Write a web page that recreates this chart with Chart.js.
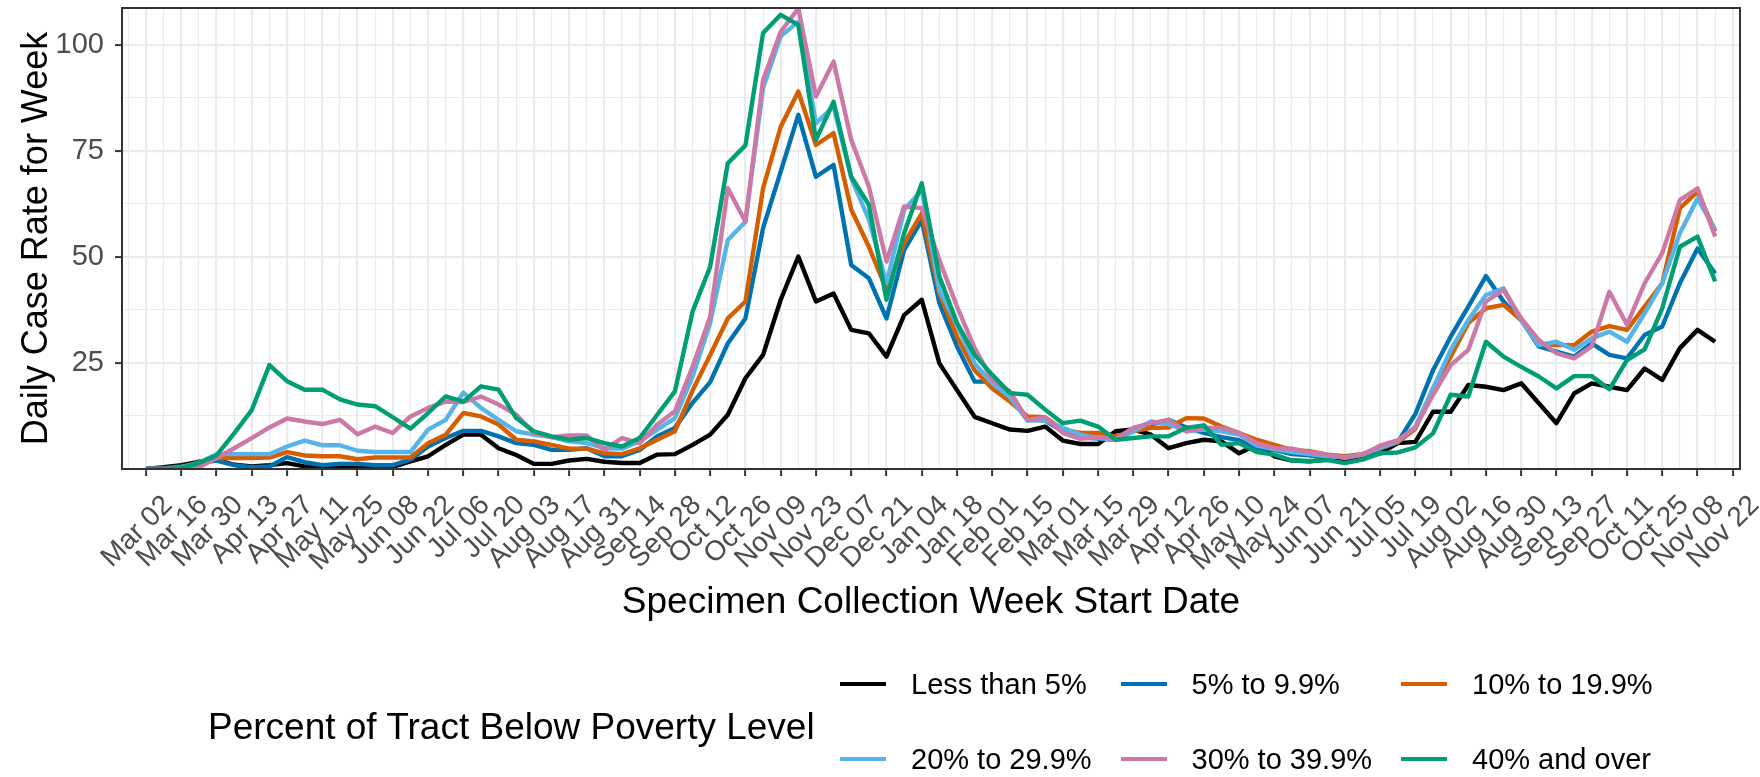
<!DOCTYPE html>
<html>
<head>
<meta charset="utf-8">
<script src="https://cdn.jsdelivr.net/npm/chart.js@4.4.1/dist/chart.umd.min.js"></script>
<style>
  body { margin: 0; background: #fff; }
  #wrap { position: relative; width: 1760px; height: 777px; font-family: 'Liberation Sans', Arial, sans-serif; }
  #chart { position: absolute; left: 0; top: 0; }
  .lg-title { position: absolute; font-size: 37px; color: #000; white-space: nowrap; transform: translateY(-50%); }
  .lg-key { position: absolute; width: 46px; height: 4px; transform: translateY(-50%); }
  .lg-text { position: absolute; font-size: 29px; color: #000; white-space: nowrap; transform: translateY(-50%); }
</style>
</head>
<body>
<div id="wrap">
  <canvas id="chart" width="1760" height="777"></canvas>
  <div id="legend"></div>
</div>
<script>
// x = week number counted from the week of Mar 02 2020 (one value per week)
const tickLabels = ["Mar 02","Mar 16","Mar 30","Apr 13","Apr 27","May 11","May 25","Jun 08","Jun 22","Jul 06","Jul 20",
  "Aug 03","Aug 17","Aug 31","Sep 14","Sep 28","Oct 12","Oct 26","Nov 09","Nov 23","Dec 07","Dec 21",
  "Jan 04","Jan 18","Feb 01","Feb 15","Mar 01","Mar 15","Mar 29","Apr 12","Apr 26","May 10","May 24",
  "Jun 07","Jun 21","Jul 05","Jul 19","Aug 02","Aug 16","Aug 30","Sep 13","Sep 27","Oct 11","Oct 25","Nov 08","Nov 22"];

const seriesNames = ["Less than 5%", "5% to 9.9%", "10% to 19.9%", "20% to 29.9%", "30% to 39.9%", "40% and over"];
const seriesColors = ["#000000", "#0072B2", "#D55E00", "#56B4E9", "#CC79A7", "#009E73"];

const lessThan5 = [0,0.4,0.9,1.7,2.2,1.0,0.6,0.9,1.4,0.6,
  0.4,0.5,0.5,0.4,0.5,1.8,3.0,5.7,8.1,8.1,
  4.9,3.3,1.2,1.2,2.0,2.4,1.7,1.4,1.4,3.4,
  3.5,5.7,8.1,12.8,21.4,26.9,39.9,50.1,39.5,41.4,
  32.8,32.0,26.5,36.3,39.9,24.9,18.6,12.3,10.8,9.3,
  9.0,10.0,6.7,5.9,5.9,8.9,9.3,8.1,4.9,6.1,
  6.9,6.5,3.7,5.7,3.0,2.0,1.8,2.2,1.8,2.6,
  3.7,6.1,6.4,13.5,13.5,19.8,19.4,18.6,20.2,15.5,
  10.8,17.8,20.2,19.4,18.6,23.7,21.0,28.5,32.8,30.0];

const pct5to10 = [0,0.2,0.6,1.4,2.0,0.9,0.4,0.6,2.8,1.6,
  0.9,1.2,1.2,0.9,0.9,2.2,5.3,7.3,9.0,9.0,
  7.7,6.1,5.7,4.5,4.5,4.9,3.0,3.0,4.5,7.7,
  9.7,15.6,20.5,29.6,35.5,56.8,70.1,83.5,68.9,71.7,
  48.1,45.0,35.5,51.6,58.7,39.1,28.9,20.6,20.6,16.5,
  12.0,11.4,8.9,7.5,7.2,6.9,8.9,10.5,11.6,9.8,
  8.5,7.5,6.8,5.0,4.5,3.5,3.2,3.0,2.9,3.2,
  4.8,6.3,13.0,23.3,31.2,38.3,45.5,39.5,35.1,28.9,
  27.7,26.5,29.6,26.9,26.1,31.6,33.6,43.8,52.0,46.1];

const pct10to20 = [0,0.1,0.5,1.2,2.6,2.6,2.6,2.7,4.0,3.2,
  3.0,3.0,2.3,2.7,2.7,2.7,6.1,8.1,13.2,12.4,
  10.5,6.9,6.5,5.7,4.8,4.8,3.7,3.5,4.9,6.9,
  8.9,18.5,26.9,35.5,39.5,66.2,80.7,89.0,76.4,79.2,
  61.2,52.4,42.2,53.2,60.3,41.4,31.2,23.3,19.0,15.9,
  12.4,12.2,9.3,8.5,8.5,7.7,8.9,9.7,9.8,12.0,
  11.9,10.0,8.5,6.9,5.7,4.5,4.2,3.4,3.0,3.5,
  4.9,6.3,9.5,19.0,26.5,34.4,37.9,38.7,35.1,29.6,
  29.2,29.2,32.4,33.7,32.8,38.3,43.8,61.5,65.4,56.0];

const pct20to30 = [0,0,0.3,1.5,3.5,3.5,3.5,3.5,5.3,6.7,
  5.6,5.6,4.3,4.0,4.0,4.0,9.3,11.6,18.0,14.4,
  11.6,8.9,8.1,7.5,6.5,6.1,4.9,4.8,6.5,9.3,
  12.0,21.8,34.4,54.0,58.3,89.8,102.0,105.5,81.5,85.5,
  68.6,58.8,43.8,61.1,65.8,42.2,34.0,24.9,20.2,17.0,
  11.4,11.4,9.7,8.1,7.3,6.9,8.9,11.2,10.6,8.9,
  9.3,8.9,8.1,5.5,4.7,4.0,3.5,3.0,2.8,3.4,
  5.0,6.5,10.0,19.0,28.1,35.1,41.0,42.6,35.1,29.2,
  30.0,28.1,30.8,32.4,30.0,36.7,43.8,55.6,63.8,56.4];

const pct30to40 = [0,0,0,0.4,2.6,4.9,7.3,9.8,11.9,11.2,
  10.6,11.6,8.2,10.0,8.5,12.4,14.4,15.9,15.8,17.1,
  15.2,12.8,8.5,7.5,7.9,7.9,4.5,7.3,6.1,10.5,
  13.6,24.1,35.9,66.2,58.3,91.7,103.1,108.6,87.8,96.1,
  77.6,66.6,48.9,61.9,61.5,49.3,38.3,28.5,21.0,18.3,
  11.6,12.2,8.5,7.1,7.5,7.1,9.7,10.8,11.6,8.9,
  9.7,9.7,8.5,6.1,4.9,4.8,4.0,3.4,2.6,3.4,
  5.5,6.8,9.8,17.5,24.5,28.1,39.5,42.2,35.5,30.4,
  27.3,26.1,28.9,41.8,34.0,43.8,50.9,63.4,66.2,54.8];

const pct40plus = [0,0,0.2,1.4,3.2,8.4,13.9,24.5,20.7,18.7,
  18.7,16.4,15.2,14.8,12.2,9.5,13.2,17.1,15.9,19.5,
  18.7,12.0,8.9,7.7,6.9,7.3,6.1,5.3,7.3,12.8,
  18.3,37.1,47.7,72.1,76.3,102.8,107.1,104.7,77.6,86.6,
  68.9,62.3,39.9,55.6,67.4,45.4,34.4,26.9,22.2,17.9,
  17.5,14.0,10.8,11.4,10.0,6.9,7.3,7.7,7.7,9.7,
  10.3,5.7,6.1,4.0,3.4,2.0,1.9,2.1,1.4,2.2,
  3.7,3.9,5.1,8.4,17.5,17.1,30.0,26.5,24.1,21.8,
  19.0,21.9,21.9,18.8,25.7,28.2,37.9,52.4,54.8,44.2];

const allSeries = [lessThan5, pct5to10, pct10to20, pct20to30, pct30to40, pct40plus];

const datasets = allSeries.map((vals, i) => ({
    label: seriesNames[i],
    data: vals.map((v, w) => ({x: w, y: v})),
    borderColor: seriesColors[i],
    backgroundColor: seriesColors[i],
    borderWidth: 4.4,
    borderJoinStyle: 'round',
    pointRadius: 0,
    tension: 0,
    order: allSeries.length - 1 - i   // later groups drawn on top
}));

const panelBorder = {
    id: 'panelBorder',
    afterDatasetsDraw(chart) {
        const {ctx, chartArea: a} = chart;
        ctx.save();
        ctx.strokeStyle = '#333333';
        ctx.lineWidth = 2;
        ctx.strokeRect(a.left, a.top, a.right - a.left, a.bottom - a.top);
        ctx.restore();
    }
};

// no extra room for half-labels at the ends of the axes
function noEndPadding(s) {
    s.paddingTop = 0; s.paddingBottom = 0;
    s.paddingLeft = 0; s.paddingRight = 0;
}

Chart.defaults.font.family = "'Liberation Sans', Arial, sans-serif";

const chart = new Chart(document.getElementById('chart'), {
    type: 'line',
    data: { datasets: datasets },
    plugins: [panelBorder],
    options: {
        responsive: false,
        animation: false,
        devicePixelRatio: 1,
        layout: { padding: { left: 0, right: 20, top: 8, bottom: 150 } },
        plugins: { legend: { display: false }, tooltip: { enabled: false } },
        scales: {
            x: {
                type: 'linear',
                min: -1.36,
                max: 90.41,
                afterFit: s => { s.height = 158; noEndPadding(s); },
                border: { display: false },
                grid: {
                    color: '#EBEBEB',
                    lineWidth: c => (c.tick && c.tick.value % 2 === 0) ? 2.2 : 1.1,
                    tickColor: c => (c.tick && c.tick.value % 2 === 0 && c.tick.value >= 0) ? '#333333' : 'rgba(0,0,0,0)',
                    tickWidth: 2,
                    tickLength: 7
                },
                ticks: {
                    stepSize: 1,
                    includeBounds: false,
                    autoSkip: false,
                    maxTicksLimit: 200,
                    minRotation: 45,
                    maxRotation: 45,
                    padding: 13,
                    labelOffset: 22,
                    color: '#4D4D4D',
                    font: { size: 28 },
                    callback: v => (v >= 0 && v % 2 === 0 && tickLabels[v / 2]) ? tickLabels[v / 2] : ''
                },
                title: {
                    display: true,
                    text: 'Specimen Collection Week Start Date',
                    color: '#000',
                    font: { size: 37 },
                    padding: { top: 0, bottom: 2 }
                }
            },
            y: {
                min: 0,
                max: 108.7,
                afterFit: s => { s.width = 122; noEndPadding(s); },
                border: { display: false },
                grid: {
                    color: '#EBEBEB',
                    lineWidth: c => (c.tick && c.tick.value % 25 === 0) ? 2.2 : 1.1,
                    tickColor: c => (c.tick && c.tick.value % 25 === 0 && c.tick.value > 0) ? '#333333' : 'rgba(0,0,0,0)',
                    tickWidth: 2,
                    tickLength: 7
                },
                ticks: {
                    stepSize: 12.5,
                    includeBounds: false,
                    autoSkip: false,
                    padding: 11,
                    color: '#4D4D4D',
                    font: { size: 29 },
                    callback: v => (v > 0 && v % 25 === 0) ? String(v) : ''
                },
                title: {
                    display: true,
                    text: 'Daily Case Rate for Week',
                    color: '#000',
                    font: { size: 36 },
                    padding: { top: 15, bottom: 0 }
                }
            }
        }
    }
});

// legend laid out like the original: title on the left, 3 columns x 2 rows
const legend = document.getElementById('legend');
const title = document.createElement('div');
title.className = 'lg-title';
title.textContent = 'Percent of Tract Below Poverty Level';
title.style.left = '208px';
title.style.top = '727px';
legend.appendChild(title);

chart.data.datasets.forEach((ds, i) => {
    const col = i % 3, row = Math.floor(i / 3);
    const keyX = 840 + col * 280.5;
    const y = 684 + row * 75;
    const key = document.createElement('div');
    key.className = 'lg-key';
    key.style.left = keyX + 'px';
    key.style.top = y + 'px';
    key.style.background = ds.borderColor;
    legend.appendChild(key);
    const txt = document.createElement('div');
    txt.className = 'lg-text';
    txt.style.left = (keyX + 71) + 'px';
    txt.style.top = y + 'px';
    txt.textContent = ds.label;
    legend.appendChild(txt);
});
</script>
</body>
</html>
